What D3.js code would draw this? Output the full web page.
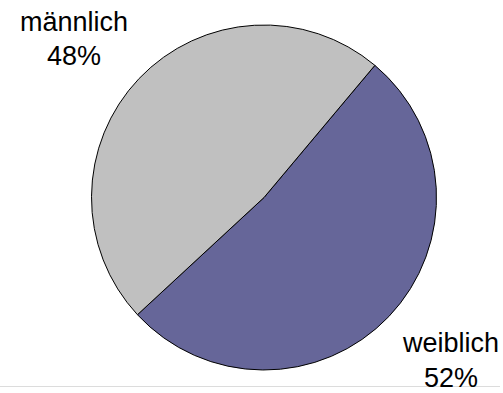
<!DOCTYPE html>
<html>
<head>
<meta charset="utf-8">
<script src="https://cdn.jsdelivr.net/npm/d3@7"></script>
<style>
  html, body { margin: 0; padding: 0; background: #fff; }
  svg { display: block; }
  text { font-family: "Liberation Sans", Arial, sans-serif; fill: #000; }
</style>
</head>
<body>
<script>
// Geschlechterverteilung
const categories = ["weiblich", "männlich"];
const values = [52, 48];
const colors = ["#666699", "#C0C0C0"];

const width = 503, height = 393;
const cx = 264, cy = 197.5, radius = 172.5;

const svg = d3.select("body").append("svg")
  .attr("width", width)
  .attr("height", height);

// thin separator along the bottom
svg.append("line")
  .attr("x1", 0).attr("x2", 500)
  .attr("y1", 386.5).attr("y2", 386.5)
  .attr("stroke", "#dcdcdc")
  .attr("stroke-width", 1);

const pie = d3.pie()
  .sort(null)
  .startAngle(40 * Math.PI / 180)
  .endAngle(40 * Math.PI / 180 + 2 * Math.PI);

const arc = d3.arc().innerRadius(0).outerRadius(radius);

const data = categories.map((c, i) => ({ name: c, value: values[i], color: colors[i] }));
const arcs = pie.value(d => d.value)(data);

const g = svg.append("g").attr("transform", `translate(${cx},${cy})`);
g.selectAll("path")
  .data(arcs)
  .join("path")
  .attr("d", arc)
  .attr("fill", d => d.data.color)
  .attr("stroke", "#000")
  .attr("stroke-width", 1);

// labels: name above, percentage below
const labelPos = {
  "weiblich": { x: 451, y: 352, gap: 35 },
  "männlich": { x: 74, y: 31, gap: 34 }
};
const total = d3.sum(values);

arcs.forEach(d => {
  const p = labelPos[d.data.name];
  const t = svg.append("text")
    .attr("text-anchor", "middle")
    .attr("font-size", 27);
  t.append("tspan").attr("x", p.x).attr("y", p.y).text(d.data.name);
  t.append("tspan").attr("x", p.x).attr("y", p.y + p.gap)
    .text(Math.round(d.data.value / total * 100) + "%");
});
</script>
</body>
</html>
